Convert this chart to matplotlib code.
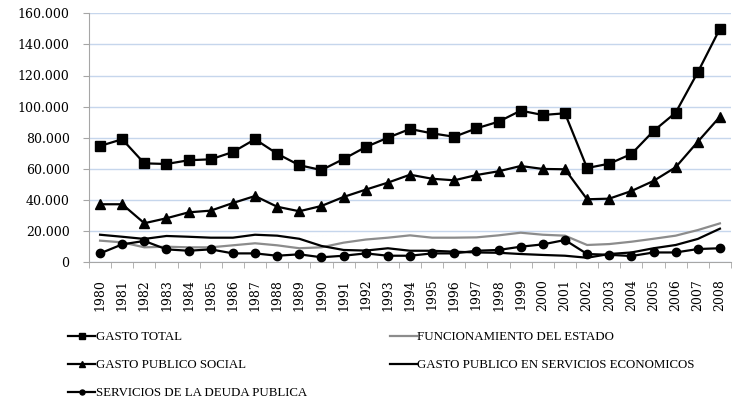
import matplotlib
matplotlib.use("Agg")
import matplotlib.pyplot as plt
from matplotlib.ticker import FuncFormatter, FixedLocator
import numpy as np

years = list(range(1980, 2009))

gasto_total = [74.7, 79.0, 63.5, 63.1, 65.5, 66.1, 70.8, 79.0, 69.7, 62.3,
               59.2, 66.3, 74.0, 80.0, 85.6, 82.8, 80.6, 86.0, 90.3, 97.4,
               94.6, 95.7, 60.5, 63.3, 69.5, 84.3, 96.1, 122.1, 150.1]
funcionamiento = [13.8, 12.7, 9.5, 9.9, 9.5, 9.5, 10.8, 12.1, 10.8, 8.9,
                  9.5, 12.5, 14.5, 15.7, 17.2, 15.7, 15.7, 15.9, 17.2, 18.9,
                  17.6, 17.0, 11.0, 11.6, 13.1, 15.0, 17.0, 20.6, 24.9]
social = [37.2, 37.2, 25.0, 28.2, 32.0, 33.1, 38.0, 42.5, 35.6, 32.7,
          36.1, 41.9, 46.6, 51.1, 56.2, 53.6, 52.6, 56.0, 58.4, 61.8,
          59.9, 59.7, 40.4, 40.8, 45.7, 52.2, 61.0, 77.4, 93.5]
economicos = [17.6, 16.3, 14.9, 16.8, 16.3, 15.7, 15.7, 17.6, 17.0, 15.0,
              10.4, 7.8, 7.4, 8.9, 7.3, 7.3, 6.7, 6.2, 6.0, 5.2,
              4.6, 4.1, 2.8, 5.2, 6.2, 8.9, 11.0, 14.9, 21.5]
deuda = [5.6, 11.4, 13.6, 8.2, 7.3, 8.2, 5.6, 5.6, 4.1, 5.0,
         3.1, 4.1, 5.6, 4.1, 4.1, 5.6, 5.6, 7.3, 7.8, 9.9,
         11.4, 14.2, 5.2, 4.7, 3.9, 6.2, 6.2, 8.4, 8.9]

yticks = [0, 20000, 40000, 60000, 80000, 100000, 120000, 140000, 160000]

GRID = "#c6d6ec"
AXC = "#a6a6a6"
GREY = "#8c8c8c"

fig = plt.figure(figsize=(7.33, 4.01), dpi=100)
ax = fig.add_axes([89/733, 1-262.1/401, 642/733, (262.1-13.3)/401])

x = np.arange(len(years))
k = lambda s: [v*1000 for v in s]

h_tot, = ax.plot(x, k(gasto_total), color="black", lw=1.6, marker="s", ms=6.5, zorder=5)
h_fun, = ax.plot(x, k(funcionamiento), color=GREY, lw=1.6, zorder=3)
h_soc, = ax.plot(x, k(social), color="black", lw=1.6, marker="^", ms=7, zorder=5)
h_eco, = ax.plot(x, k(economicos), color="black", lw=1.6, zorder=4)
h_deu, = ax.plot(x, k(deuda), color="black", lw=1.6, marker="o", ms=6, zorder=6)

ax.set_xlim(-0.5, len(years) - 0.5)
ax.set_ylim(0, 160000)
ax.set_yticks(yticks)
ax.yaxis.set_major_formatter(FuncFormatter(lambda v, p: f"{int(v):,}".replace(",", ".")))
ax.grid(axis="y", color=GRID, lw=1)
ax.set_axisbelow(True)

ax.set_xticks(x)
ax.set_xticklabels([str(y) for y in years], rotation=90, family="DejaVu Serif", fontsize=9)
ax.xaxis.set_minor_locator(FixedLocator(np.arange(-0.5, len(years), 1)))
ax.tick_params(axis="x", which="major", length=0, pad=12)
ax.tick_params(axis="x", which="minor", length=4.5, color=AXC, direction="out")
ax.tick_params(axis="y", length=4, color=AXC, pad=10)
for lab in ax.get_yticklabels():
    lab.set_family("DejaVu Serif"); lab.set_fontsize(9)

for s in ["top", "right"]:
    ax.spines[s].set_visible(False)
for s in ["left", "bottom"]:
    ax.spines[s].set_color(AXC)

fig.legend([h_tot, h_soc, h_deu, h_fun, h_eco],
           ["GASTO TOTAL", "GASTO PUBLICO SOCIAL", "SERVICIOS DE LA DEUDA PUBLICA",
            "FUNCIONAMIENTO DEL ESTADO", "GASTO PUBLICO EN SERVICIOS ECONOMICOS"],
           ncol=2, loc="upper left", bbox_to_anchor=(68/733, 1-331/401),
           frameon=False, prop={"family": "Liberation Serif", "size": 9.3},
           handlelength=2.1, handletextpad=0.05, labelspacing=1.25,
           columnspacing=6.4, borderpad=0, borderaxespad=0, markerscale=0.6)

fig.savefig("out.png", dpi=100)
